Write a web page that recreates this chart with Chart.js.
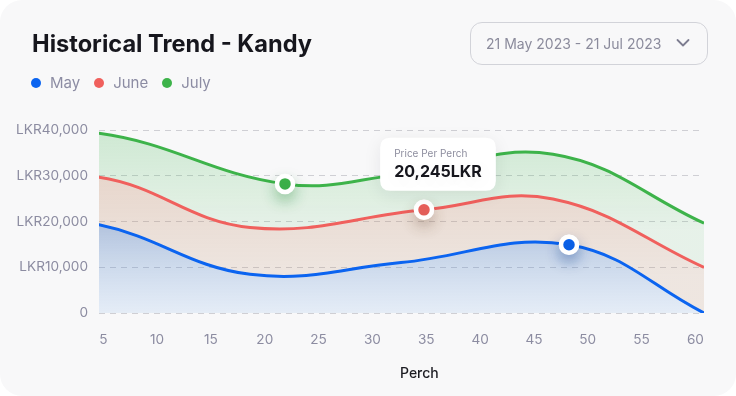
<!DOCTYPE html>
<html>
<head>
<meta charset="utf-8">
<script src="https://cdn.jsdelivr.net/npm/chart.js@4/dist/chart.umd.min.js"></script>
<style>
    body { margin: 0; background: #fff; font-family: Inter, "Noto Sans", sans-serif; }
    .card { position: absolute; left: 0; top: 0; width: 736px; height: 396px; background: #f8f8f9; border-radius: 22px; overflow: hidden; }
    canvas { position: absolute; left: 0; top: 0; }
    h1 { position: absolute; left: 32px; top: 32px; margin: 0; font-size: 23.6px; line-height: 1; font-weight: 700; color: #16161d; }
    .legend { position: absolute; left: 31px; top: 74px; display: flex; gap: 14px; font-size: 15px; line-height: 18px; color: #8c8ca3; }
    .legend span { display: flex; align-items: center; }
    .legend i { width: 10px; height: 10px; border-radius: 50%; margin-right: 9px; display: inline-block; }
    .range { position: absolute; left: 470px; top: 22px; width: 236px; height: 41px; border: 1px solid #d2d3d9; border-radius: 12px;
             font-size: 14px; color: #8b8b9c; line-height: 41px; }
    .range .txt { position: absolute; left: 15px; }
    .range svg { position: absolute; left: 205px; top: 15px; }
    .axis-title { position: absolute; left: 400px; top: 364px; font-size: 14px; font-weight: 500; color: #1c1c22; }
</style>
</head>
<body>
<div class="card">
    <canvas id="trendChart" width="736" height="396"></canvas>
    <h1>Historical Trend - Kandy</h1>
    <div class="legend" id="legend"></div>
    <div class="range"><span class="txt">21 May 2023 - 21 Jul 2023</span>
        <svg width="14" height="10" viewBox="0 0 14 10"><path d="M1.5 2 L7 7.5 L12.5 2" fill="none" stroke="#7d7d90" stroke-width="1.8" stroke-linecap="round" stroke-linejoin="round"/></svg>
    </div>
    <div class="axis-title">Perch</div>
</div>
<script>
// perch (x) and price per perch (y) for each month
// first / last entries sit just outside the visible 5-60 window (clipped)
const mayPerch   = [-9.45, 4.6, 18.63, 32.65, 48.26, 60.8];
const mayPrices  = [22040, 19280, 8450, 11020, 14910, 0];
const junePerch  = [-9.45, 4.6, 18.63, 34.79, 46.77, 60.8, 64.15];
const junePrices = [28600, 29680, 18700, 22550, 24900, 9970, 800];
const julyPerch  = [-9.45, 4.6, 21.88, 32.65, 46.77, 60.8, 64.15];
const julyPrices = [38330, 39280, 28220, 30300, 34700, 19640, 10000];

const perchTicks = [5, 10, 15, 20, 25, 30, 35, 40, 45, 50, 55, 60];
const priceTicks = [0, 10000, 20000, 30000, 40000];

const tooltipTitle = 'Price Per Perch';
const tooltipValue = '20,245LKR';

// hovered point in each series
const mayMarker = 4;
const juneMarker = 3;
const julyMarker = 2;

const series = [
    { label: 'May',  x: mayPerch,  y: mayPrices,  color: '#0b64f0', marker: mayMarker, fill: 'origin',
      band: [20000, 0], stops: ['rgba(55,100,170,0.37)', 'rgba(110,165,230,0.14)'], shadow: 'rgba(11,60,140,0.35)' },
    { label: 'June', x: junePerch, y: junePrices, color: '#f0605d', marker: juneMarker, fill: '-1',
      band: [30000, 8000], stops: ['rgba(185,115,70,0.25)', 'rgba(185,135,95,0.16)'], shadow: 'rgba(120,90,70,0.3)' },
    { label: 'July', x: julyPerch, y: julyPrices, color: '#3db34a', marker: julyMarker, fill: '-1',
      band: [40000, 18000], stops: ['rgba(60,180,75,0.22)', 'rgba(60,180,75,0.09)'], shadow: 'rgba(40,140,60,0.35)' }
];

// legend
const legend = document.getElementById('legend');
series.forEach(s => {
    const item = document.createElement('span');
    item.innerHTML = `<i style="background:${s.color}"></i>${s.label}`;
    legend.appendChild(item);
});

function bandGradient(s) {
    return (context) => {
        const { chart } = context;
        const yScale = chart.scales.y;
        if (!chart.chartArea || !yScale) return null;
        const g = chart.ctx.createLinearGradient(0, yScale.getPixelForValue(s.band[0]), 0, yScale.getPixelForValue(s.band[1]));
        g.addColorStop(0, s.stops[0]);
        g.addColorStop(1, s.stops[1]);
        return g;
    };
}

Chart.Tooltip.positioners.lifted = function (items) {
    if (!items.length) return false;
    const el = items[0].element;
    return { x: el.x + 14, y: el.y };
};

// soft glow under the hovered markers
const markerGlow = {
    id: 'markerGlow',
    afterDatasetsDraw(chart) {
        const ctx = chart.ctx;
        series.forEach((s, i) => {
            const el = chart.getDatasetMeta(i).data[s.marker];
            ctx.save();
            ctx.shadowColor = s.shadow;
            ctx.shadowBlur = 14;
            ctx.shadowOffsetY = 7;
            el.draw(ctx, chart.chartArea);
            ctx.restore();
        });
    }
};

const tooltipShadow = {
    id: 'tooltipShadow',
    beforeTooltipDraw(chart) {
        const ctx = chart.ctx;
        ctx.save();
        ctx.shadowColor = 'rgba(20,20,40,0.08)';
        ctx.shadowBlur = 18;
        ctx.shadowOffsetY = 4;
    },
    afterTooltipDraw(chart) {
        chart.ctx.restore();
    }
};

const tickFont = { family: 'Inter', size: 13.6 };

const chart = new Chart(document.getElementById('trendChart'), {
    type: 'line',
    data: {
        datasets: series.map(s => ({
            label: s.label,
            data: s.x.map((x, i) => ({ x, y: s.y[i] })),
            borderColor: s.color,
            borderWidth: 3,
            backgroundColor: bandGradient(s),
            fill: s.fill,
            tension: 0.4,
            pointRadius: s.x.map((_, i) => i === s.marker ? 8 : 0),
            pointBorderWidth: 4.5,
            pointBorderColor: '#ffffff',
            pointBackgroundColor: s.color
        }))
    },
    options: {
        responsive: false,
        animation: false,
        events: [],
        layout: { padding: { top: 130, right: 32, left: 0, bottom: 0 } },
        scales: {
            x: {
                type: 'linear',
                min: 4.6,
                max: 60.8,
                afterBuildTicks: (scale) => { scale.ticks = perchTicks.map(v => ({ value: v })); },
                afterFit: (scale) => { scale.height = 83; },
                grid: { display: false },
                border: { display: false },
                ticks: { padding: 11, color: '#8c8ca1', font: tickFont }
            },
            y: {
                min: 0,
                max: 40000,
                afterBuildTicks: (scale) => { scale.ticks = priceTicks.map(v => ({ value: v })); },
                afterFit: (scale) => { scale.width = 99; },
                border: { display: false, dash: [6, 5] },
                grid: { color: '#cfcfd4', lineWidth: 1, drawTicks: false },
                ticks: {
                    padding: 11,
                    color: '#8c8ca1',
                    font: tickFont,
                    callback: v => v === 0 ? '0' : 'LKR' + v.toLocaleString('en-US')
                }
            }
        },
        plugins: {
            legend: { display: false },
            tooltip: {
                enabled: true,
                position: 'lifted',
                xAlign: 'center',
                yAlign: 'bottom',
                caretSize: 0,
                caretPadding: 19,
                backgroundColor: '#ffffff',
                cornerRadius: 10,
                displayColors: false,
                padding: { top: 10, bottom: 9, left: 14, right: 14 },
                titleColor: '#8d8d9e',
                titleFont: { family: 'Inter', size: 10, weight: '400' },
                titleMarginBottom: 3,
                bodyColor: '#16161d',
                bodyFont: { family: 'Inter', size: 16, weight: '700' },
                callbacks: {
                    title: () => tooltipTitle,
                    label: () => tooltipValue
                }
            }
        }
    },
    plugins: [markerGlow, tooltipShadow]
});

chart.tooltip.setActiveElements([{ datasetIndex: 1, index: juneMarker }], { x: 0, y: 0 });
chart.update();
</script>
</body>
</html>
